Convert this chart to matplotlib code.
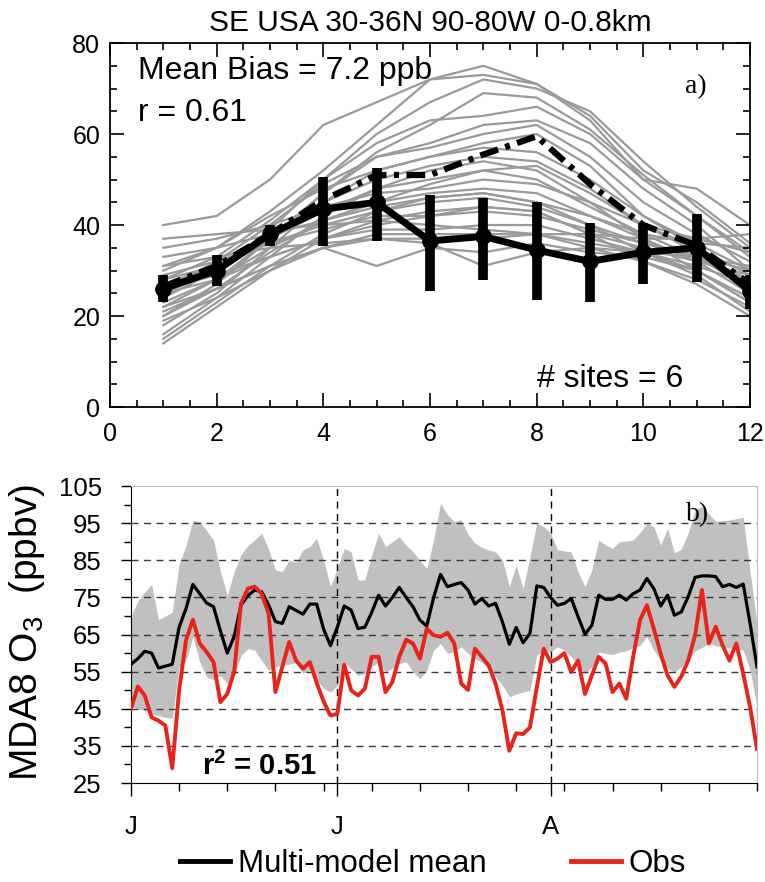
import numpy as np
import matplotlib
matplotlib.use('Agg')
import matplotlib.pyplot as plt
from matplotlib.lines import Line2D

plt.rcParams['font.family'] = ['Liberation Sans', 'DejaVu Sans']
plt.rcParams['mathtext.default'] = 'regular'

# ---- panel a: monthly climatology ----
MONTHS = list(range(1, 13))
OBS = [26, 30, 38, 43.5, 45, 36.5, 37.5, 34.5, 32, 34, 35, 25.5]
OBS_LO = [23, 26.5, 35.5, 35.5, 36.5, 25.5, 28, 23.5, 23, 27, 27.5, 21.5]
OBS_HI = [29, 33.5, 40, 50.5, 52.5, 46.5, 46, 45, 40.5, 40.5, 42.5, 29]
MMM = [26.5, 31, 38, 45.5, 51, 51, 55.5, 59.5, 49, 40, 35.5, 27]

MODELS = [
    [40, 42, 50, 62, 67, 72, 73, 71, 63, 50, 48, 40],
    [30, 35, 43, 52, 62, 72, 75, 71, 64, 52, 45, 36],
    [25, 30, 39, 50, 60, 67, 72, 70, 65, 54, 44, 35],
    [22, 28, 37, 47, 56, 62, 69, 68, 61, 51, 42, 33],
    [28, 33, 41, 50, 58, 63, 64, 66, 60, 50, 42, 34],
    [20, 27, 37, 47, 55, 58, 62, 63, 58, 48, 40, 30],
    [26, 32, 40, 49, 55, 57, 60, 62, 55, 45, 38, 32],
    [18, 25, 35, 45, 52, 55, 58, 60, 53, 42, 35, 26],
    [31, 35, 42, 48, 52, 55, 57, 56, 50, 42, 36, 30],
    [24, 30, 38, 45, 50, 53, 55, 54, 48, 40, 34, 27],
    [27, 31, 37, 43, 48, 50, 52, 53, 47, 40, 35, 29],
    [16, 24, 33, 42, 48, 52, 54, 52, 45, 37, 30, 23],
    [23, 28, 35, 41, 45, 49, 52, 50, 44, 38, 33, 26],
    [35, 37, 40, 44, 47, 48, 50, 49, 45, 40, 37, 34],
    [20, 26, 34, 41, 45, 47, 48, 47, 42, 37, 32, 25],
    [37, 38, 39, 40, 41, 40, 39, 38, 38, 37, 37, 38],
    [29, 32, 36, 39, 42, 42, 43, 42, 39, 36, 33, 30],
    [25, 28, 33, 37, 39, 39, 40, 40, 37, 34, 31, 27],
    [14, 22, 30, 37, 41, 43, 44, 43, 38, 32, 27, 20],
    [22, 26, 31, 35, 31, 35, 34, 36, 34, 33, 30, 24],
    [31, 33, 35, 36, 37, 36, 31, 34, 35, 34, 33, 31],
    [21, 26, 31, 35, 38, 38, 38, 38, 36, 34, 30, 23],
    [19, 24, 30, 35, 37, 37, 37, 38, 35, 32, 28, 22],
    [15, 23, 31, 38, 43, 46, 47, 45, 40, 34, 29, 21],
    [33, 35, 38, 41, 44, 46, 47, 45, 42, 38, 36, 35],
    [28, 31, 36, 40, 43, 45, 46, 44, 40, 36, 33, 28],
    [26, 29, 33, 37, 40, 42, 44, 43, 38, 35, 32, 29],
]

# ---- panel b: daily MDA8 O3, 1 Jun - 31 Aug ----
MEAN = [57, 58.5, 60.5, 60, 56, 56.5, 57, 67, 72, 78.5,
        76, 73.5, 72.5, 66, 60, 64.5, 73, 75.5, 77, 76.5,
        73, 68.5, 68, 72.5, 71.5, 70.5, 73.2, 73.2, 66.5, 62,
        67, 72.7, 71.6, 66.6, 67, 71, 75.6, 72.7, 75, 77.7,
        75, 72.5, 68.9, 67.3, 75, 81.2, 77.9, 78.5, 79, 77,
        73.2, 74.7, 72.7, 73.4, 68.4, 62.4, 66.9, 62.8, 65.3, 78.1,
        77.7, 75, 72.9, 73.4, 74.7, 69.8, 65.1, 67.5, 75.6, 74.5,
        74.5, 75.6, 74.3, 76, 77, 80.1, 77.4, 72.7, 75.6, 70.2,
        71.1, 75.2, 80.4, 80.8, 80.8, 80.6, 77.9, 78.5, 77.7, 78.6,
        68, 56.3]
OBSD = [45, 51, 48.6, 42.7, 41.8, 40.5, 29, 50, 63.5, 69,
        62.6, 60.3, 57.6, 46.8, 49, 55, 73.4, 77.4, 77.9, 76,
        70.7, 49.5, 56.3, 63, 58, 55.8, 57.6, 52, 47, 43.2,
        43.6, 56.9, 50, 48.6, 50.4, 59, 59, 49.5, 52.2, 59,
        63.6, 62.6, 58.5, 66.6, 64.8, 64.4, 65.5, 62.6, 51.8, 50.1,
        61.2, 59, 56.7, 51.8, 44.6, 33.7, 38.4, 38.2, 40, 50.8,
        61.2, 57.6, 58.5, 60, 54.9, 58, 49, 54, 59, 57.2,
        49.5, 51.8, 47.7, 59, 68.9, 72.9, 66.6, 59.9, 54, 50.9,
        53.7, 58, 64.8, 77, 62.6, 67.1, 62.1, 58, 62.6, 54.5,
        45.5, 34.2]
UPPER = [70, 74, 76.5, 78.5, 69, 70, 71, 84, 89, 95.7,
         95.5, 93, 90.5, 82, 75.5, 82, 86.5, 89, 90.5, 92.3,
         88, 82.4, 82, 85, 84.5, 87.8, 88.7, 91, 85, 77.9,
         83, 88.2, 87.3, 79.7, 79.7, 86.4, 92.3, 88.7, 90, 91.4,
         89, 87.3, 85, 82.8, 90.5, 100.4, 97.3, 95.5, 95.9, 92,
         89.6, 88.5, 87.8, 87.3, 85.1, 77.9, 83.7, 77.4, 86, 95,
         94.1, 92.3, 87.8, 87.5, 87.3, 81.9, 77.9, 82.4, 90.5, 89.1,
         88.2, 90, 90.2, 90.5, 92.5, 95, 94, 89.1, 93.6, 87,
         88, 92.3, 98.6, 99.5, 97.5, 95.5, 95.7, 95.9, 96.2, 96.6,
         82, 68]
LOWER = [45.6, 45, 44.5, 43.6, 43.2, 42.7, 42.5, 56.3, 58, 64.4,
         57.6, 53.6, 52.8, 54, 51.8, 53.6, 59.4, 61.2, 60.8, 58,
         55.4, 56.3, 56.7, 57, 57.5, 54.5, 55.4, 52.7, 50.5, 49.5,
         51.3, 57.6, 55.8, 54, 54.5, 56.3, 57.6, 54.9, 56, 57.2,
         57.6, 55, 53.1, 55.4, 60.8, 62.6, 60, 60.3, 61.7, 59.9,
         58.5, 57.6, 55.8, 53.6, 51.3, 48.2, 49, 49.5, 50, 59.4,
         60.8, 60.3, 61.7, 60.8, 59, 56.7, 54.5, 56.3, 60.3, 59.9,
         59.6, 60.3, 60.6, 61.5, 62.1, 64.4, 60.8, 58, 55.8, 54.9,
         56.3, 58.5, 60.5, 61.5, 62.6, 62, 61.7, 61.3, 61.2, 60.8,
         55.4, 45.5]
MONTH_DAYS = [0, 30, 61]
MONTH_LABELS = ['J', 'J', 'A']

fig = plt.figure(figsize=(7.65, 8.82), dpi=100)

# ---------------- panel a ----------------
ax1 = fig.add_axes([0.1438, 0.5385, 0.8366, 0.4127])
for m in MODELS:
    ax1.plot(MONTHS, m, color='#9a9a9a', lw=1.6, zorder=1)
ax1.plot(MONTHS, MMM, color='black', lw=4.5, dashes=(3.0, 1.2, 0.8, 1.2), zorder=3)
obs = np.array(OBS)
yerr = [obs - np.array(OBS_LO), np.array(OBS_HI) - obs]
ax1.errorbar(MONTHS, OBS, yerr=yerr, color='black', lw=5, elinewidth=7,
             capsize=0, marker='o', ms=11, zorder=4)
ax1.set_xlim(0, 12)
ax1.set_ylim(0, 80)
ax1.set_xticks(range(0, 13, 2))
ax1.set_xticks(np.arange(0, 12.01, 0.5), minor=True)
ax1.set_yticks(range(0, 81, 20))
ax1.set_yticks(range(0, 81, 5), minor=True)
ax1.tick_params(which='both', direction='in', top=True, right=True, labelsize=18, width=1.2)
ax1.tick_params(which='major', length=10)
ax1.tick_params(axis='x', which='major', pad=11)
ax1.tick_params(axis='y', which='major', pad=7)
ax1.tick_params(which='minor', length=5)
for s in ax1.spines.values():
    s.set_linewidth(1.3)
ax1.set_title('SE USA 30-36N 90-80W 0-0.8km', fontsize=21.5, pad=9)
ax1.text(0.044, 0.965, 'Mean Bias = 7.2 ppb', transform=ax1.transAxes,
         fontsize=23, va='top', ha='left')
ax1.text(0.044, 0.85, 'r = 0.61', transform=ax1.transAxes,
         fontsize=23, va='top', ha='left')
ax1.text(0.916, 0.88, 'a)', transform=ax1.transAxes, fontsize=20,
         family='Liberation Serif', ha='center', va='center')
ax1.text(0.895, 0.055, '# sites = 6', transform=ax1.transAxes,
         fontsize=23, ha='right', va='baseline')

# ---------------- panel b ----------------
days = np.arange(len(MEAN))
ax2 = fig.add_axes([0.1712, 0.1122, 0.8183, 0.3367])
ax2.fill_between(days, LOWER, UPPER, color='#c0c0c0', lw=0, zorder=1)
for yv in range(35, 100, 10):
    ax2.axhline(yv, color='#3a3a3a', lw=1.0, dashes=(5, 4), zorder=2)
for dv in MONTH_DAYS[1:]:
    ax2.axvline(dv, color='black', lw=1.0, dashes=(5, 4), zorder=2)
ax2.plot(days, MEAN, color='black', lw=2.3, zorder=3)
ax2.plot(days, OBSD, color='#e8231a', lw=2.8, zorder=4)
ax2.set_xlim(0, len(MEAN) - 1)
ax2.set_ylim(25, 105)
ax2.set_yticks(range(25, 106, 10))
ax2.set_yticks(range(25, 106, 5), minor=True)
ax2.set_xticks(MONTH_DAYS)
ax2.set_xticklabels(MONTH_LABELS)
ax2.set_xticks(range(0, len(MEAN), 7), minor=True)
ax2.tick_params(which='both', direction='out', labelsize=18.5, width=1.0)
ax2.tick_params(axis='x', which='major', length=9, pad=14)
ax2.tick_params(axis='x', which='minor', length=6)
ax2.tick_params(axis='y', which='major', length=7, pad=14)
ax2.tick_params(axis='y', which='minor', length=5)
ax2.spines['top'].set_color('#bbbbbb')
ax2.spines['right'].set_color('#bbbbbb')
fig.text(0.0355, 0.2823, 'MDA8 O$_3$  (ppbv)', rotation=90, fontsize=28,
         ha='center', va='center')
ax2.text(0.113, 0.008, 'r$^2$ = 0.51', transform=ax2.transAxes, fontsize=21,
         fontweight='bold', ha='left', va='bottom')
ax2.text(0.905, 0.905, 'b)', transform=ax2.transAxes, fontsize=20,
         family='Liberation Serif', ha='center', va='center', zorder=5)

handles = [Line2D([], [], color='black', lw=3.5), Line2D([], [], color='#e8231a', lw=3.5)]
fig.legend(handles, ['Multi-model mean', 'Obs'], loc='center', bbox_to_anchor=(0.566, 0.02),
           ncol=2, frameon=False, fontsize=22.5, handlelength=1.6, handletextpad=0.25,
           columnspacing=2.7)

fig.savefig('out.png', dpi=100)
